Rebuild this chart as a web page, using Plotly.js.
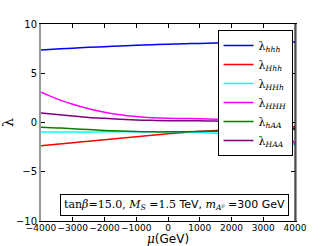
<!DOCTYPE html>
<html><head><meta charset="utf-8">
<script src="https://cdn.plot.ly/plotly-3.0.1.min.js"></script>
<style>html,body{margin:0;padding:0;background:#fff}#c{width:328px;height:246px}</style>
</head><body><div id="c"></div>
<script>
const mu = [-4000,-3500,-3000,-2500,-2000,-1500,-1000,-500,0,500,1000,1500,2000,2500,3000,3500,3750,4000];
const lam_hhh = [7.37,7.46,7.55,7.63,7.70,7.77,7.83,7.89,7.95,7.99,8.03,8.07,8.10,8.12,8.14,8.15,8.155,8.16];
const lam_Hhh = [-2.36,-2.21,-2.05,-1.90,-1.75,-1.60,-1.45,-1.30,-1.15,-1.02,-0.90,-0.80,-0.70,-0.62,-0.55,-0.48,-0.45,-0.42];
const lam_HHh = [-0.97,-0.97,-0.96,-0.96,-0.95,-0.95,-0.94,-0.93,-0.93,-0.95,-0.98,-1.10,-1.28,-1.48,-1.68,-1.88,-1.97,-2.30];
const lam_HHH = [3.07,2.40,1.85,1.40,1.05,0.78,0.60,0.48,0.42,0.40,0.38,0.33,0.25,0.10,-0.20,-0.70,-1.10,-2.20];
const lam_hAA = [-0.47,-0.55,-0.63,-0.72,-0.80,-0.87,-0.92,-0.95,-0.95,-0.93,-0.91,-0.89,-0.87,-0.84,-0.80,-0.75,-0.72,-0.70];
const lam_HAA = [0.97,0.80,0.65,0.52,0.42,0.33,0.26,0.22,0.19,0.18,0.17,0.14,0.10,0.00,-0.15,-0.35,-0.45,-0.60];
const names = ['λ<sub><i>hhh</i></sub>','λ<sub><i>Hhh</i></sub>','λ<sub><i>HHh</i></sub>','λ<sub><i>HHH</i></sub>','λ<sub><i>hAA</i></sub>','λ<sub><i>HAA</i></sub>'];
const series = [lam_hhh, lam_Hhh, lam_HHh, lam_HHH, lam_hAA, lam_HAA];
const colors = ['#0000ff','#ff0000','#00ffff','#ff00ff','#008000','#800080'];
const xticks = [-4000,-3000,-2000,-1000,0,1000,2000,3000,4000];
const yticks = [-10,-5,0,5,10];

const traces = series.map((s,i)=>({x:mu,y:s,name:names[i],type:'scatter',mode:'lines',
  line:{color:colors[i],width:1.5,shape:'spline'}}));

const serif = "font-family:'DejaVu Serif'";
const layout = {
  width:328,height:246,
  margin:{l:41,r:33,t:24,b:25},
  paper_bgcolor:'#fff',plot_bgcolor:'#fff',
  font:{family:'DejaVu Sans',size:10,color:'#000'},
  showlegend:true,
  legend:{x:0.695,y:0.97,xanchor:'left',yanchor:'top',bgcolor:'#fff',bordercolor:'#000',borderwidth:1,
    font:{family:'DejaVu Serif',size:11},itemwidth:30,tracegroupgap:0},
  xaxis:{range:[-4000,4000],tickvals:xticks,ticktext:xticks.map(v=>v<0?'−'+(-v):String(v)),
    tickangle:0,automargin:false,ticklabelstandoff:-2,
    ticks:'inside',ticklen:4,tickcolor:'#000',showline:true,linecolor:'#000',linewidth:1,mirror:'ticks',
    showgrid:false,zeroline:false,tickfont:{size:9}},
  yaxis:{range:[-10,10],tickvals:yticks,ticktext:yticks.map(v=>v<0?'−'+(-v):String(v)),
    automargin:false,
    ticks:'inside',ticklen:4,tickcolor:'#000',showline:true,linecolor:'#999',linewidth:2,mirror:'ticks',
    showgrid:false,zeroline:false,tickfont:{size:10},
    title:{text:'λ',font:{size:14,family:'DejaVu Serif'},standoff:8}},
  shapes:[{type:'line',xref:'paper',yref:'paper',x0:1,x1:1,y0:0,y1:1,line:{color:'#000',width:1},layer:'above'}],
  annotations:[
    {xref:'paper',yref:'paper',x:0.524,y:0.083,xanchor:'center',yanchor:'middle',showarrow:false,
    bordercolor:'#000',borderwidth:1,borderpad:3,bgcolor:'#fff',font:{size:11,family:'DejaVu Sans'},
    text:'<span style="'+serif+'">tan<i>β</i>=15.0, <i>M</i><sub><i>S</i></sub> =1.5</span> TeV, <span style="'+serif+'"><i>m</i><sub><i>A⁰</i></sub></span> =300 GeV'},
    {xref:'paper',yref:'paper',x:0.5,y:-0.135,xanchor:'center',yanchor:'bottom',showarrow:false,
    font:{size:12,family:'DejaVu Sans'},text:'<i style="'+serif+'">μ</i>(GeV)'}
  ]
};
Plotly.newPlot('c',traces,layout,{displayModeBar:false,staticPlot:true});
</script></body></html>
